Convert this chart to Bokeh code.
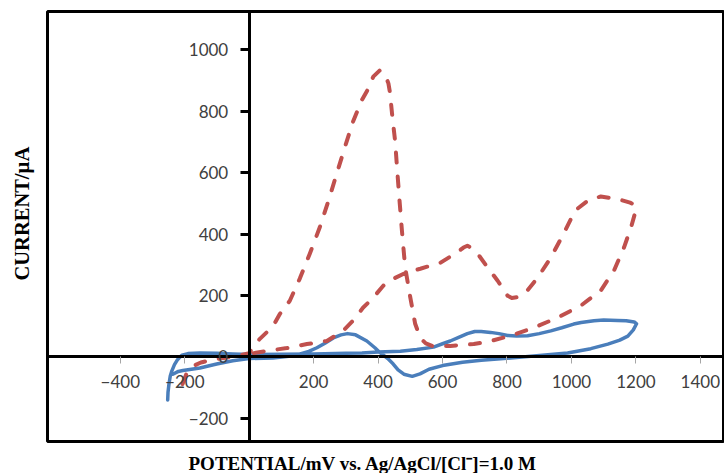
from bokeh.plotting import figure
from bokeh.models import LinearAxis, FixedTicker, Range1d, Title
from bokeh.embed import file_html
from bokeh.resources import INLINE

# Cyclic voltammogram, dashed red curve (potential mV, current uA)
red_x = [-207, -195, -175, -150, -110, -60, 0, 10, 33, 74, 95, 126, 157, 188, 219, 245,
         272, 297, 322, 350, 368, 385, 405, 422, 432, 437, 443, 453, 459, 466, 474, 484,
         500, 515, 531, 548, 568, 624, 697, 749, 811, 883, 957, 1029, 1091, 1132, 1163,
         1185, 1200, 1196, 1182, 1143, 1091, 1055, 1018, 1007, 976, 936, 895, 863, 835,
         815, 802, 771, 740, 709, 687, 677, 665, 645, 594, 531, 490, 448, 416, 385, 353,
         322, 291, 241, 179, 117, 55, 12, 0]
red_y = [-88, -55, -30, -18, -8, 0, 12, 30, 59, 100, 140, 183, 255, 336, 422, 505,
         598, 683, 765, 837, 870, 912, 932, 918, 890, 859, 794, 700, 612, 515, 410, 291,
         193, 108, 62, 44, 36, 36, 42, 52, 69, 95, 128, 167, 216, 281, 356,
         422, 478, 495, 502, 514, 522, 512, 482, 467, 402, 323, 258, 216, 195,
         192, 199, 248, 291, 336, 356, 362, 356, 340, 307, 287, 276, 255, 232, 193, 160,
         118, 85, 52, 42, 29, 20, 12, 10]

# Solid blue curve
blue_x = [-237, -220, -206, -153, -101, -51, 0, 74, 130, 158, 185, 210, 235, 261, 285, 305,
          330, 365, 390, 406, 430, 447, 462, 480, 506, 530, 558, 600, 662, 720, 780, 883,
          988, 1060, 1113, 1150, 1175, 1192, 1202, 1195, 1170, 1143, 1100, 1070, 1030, 1007,
          970, 936, 900, 864, 830, 802, 775, 749, 720, 700, 677, 650, 624, 600, 572, 520,
          469, 400, 350, 300, 200, 100, 0, -51, -100, -153, -190, -209, -222, -232, -240,
          -245, -249, -252, -253]
blue_y = [-56, -47, -44, -36, -23, -12, -5, -3, 3, 10, 18, 30, 45, 62, 72, 76,
          72, 52, 30, 14, -5, -23, -42, -56, -63, -55, -40, -28, -17, -11, -6, 3,
          13, 27, 42, 55, 68, 88, 108, 114, 118, 119, 120, 118, 112, 107,
          95, 85, 76, 69, 68, 70, 76, 80, 83, 83, 76, 64, 52, 43, 32, 24,
          19, 16, 13, 12, 10, 9, 8, 10, 12, 13, 11, 6, -8, -25, -45,
          -62, -88, -115, -140]

x_ticks = [-400, -200, 200, 400, 600, 800, 1000, 1200, 1400]
y_ticks = [-200, 0, 200, 400, 600, 800, 1000]

p = figure(width=724, height=473, output_backend="svg", toolbar_location=None,
           x_range=Range1d(-626, 1475), y_range=Range1d(-275, 1124),
           x_axis_location=None, y_axis_location=None,
           min_border_left=47, min_border_right=0, min_border_top=11, min_border_bottom=32,
           background_fill_color="white", border_fill_color="white")
p.grid.visible = False
p.outline_line_color = "black"
p.outline_line_width = 3

label_font = "Lato"
xaxis = LinearAxis(fixed_location=0, ticker=FixedTicker(ticks=x_ticks),
                   axis_line_color="black", axis_line_width=3,
                   major_tick_line_color="#a6a6a6", major_tick_line_width=1,
                   major_tick_in=0, major_tick_out=7, minor_tick_line_color=None,
                   major_label_text_font=label_font, major_label_text_font_size="17px",
                   major_label_text_color="#404040", major_label_standoff=11)
yaxis = LinearAxis(fixed_location=0, ticker=FixedTicker(ticks=y_ticks),
                   axis_line_color="black", axis_line_width=3,
                   major_tick_line_color="black", major_tick_line_width=3,
                   major_tick_in=0, major_tick_out=9, minor_tick_line_color=None,
                   major_label_text_font=label_font, major_label_text_font_size="17px",
                   major_label_text_color="#404040", major_label_standoff=12)
p.add_layout(xaxis, "below")
p.add_layout(yaxis, "left")

p.line(blue_x, blue_y, line_color="#4A7EBB", line_width=3.5, line_join="round", line_cap="round")
p.line(red_x, red_y, line_color="#C0504D", line_width=4, line_dash="10 14",
       line_cap="round", line_join="round")

# white (invisible on white) spacers nearest the frame, pushing the axis titles outward
p.add_layout(Title(text=".", text_font_size="1px", text_color="white", standoff=6), "below")
p.add_layout(Title(text=".", text_font_size="1px", text_color="white", standoff=12), "left")

p.add_layout(Title(text="POTENTIAL/mV vs. Ag/AgCl/[Cl\u207b]=1.0 M", align="left", offset=141,
                   standoff=0, vertical_align="bottom",
                   text_font="Liberation Serif", text_font_size="19px", text_font_style="bold",
                   text_color="black"), "below")
p.add_layout(Title(text="CURRENT/\u00b5A", align="left", offset=161, standoff=0,
                   vertical_align="bottom",
                   text_font="Liberation Serif", text_font_size="20.5px", text_font_style="bold",
                   text_color="black"), "left")

open("out.html", "w").write(file_html(p, INLINE))
